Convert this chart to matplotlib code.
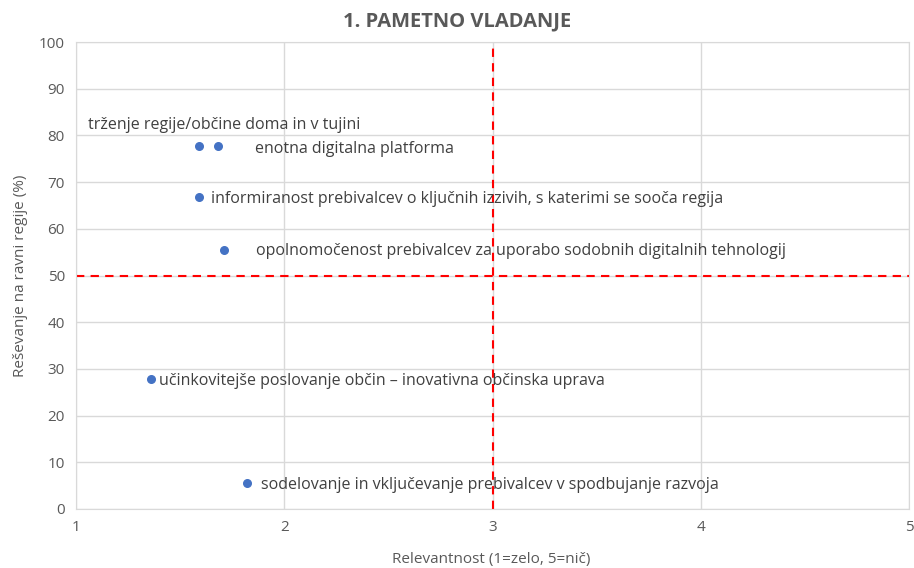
import matplotlib.pyplot as plt

# data
relevance = [1.59, 1.68, 1.59, 1.71, 1.36, 1.82]
region_pct = [77.7, 77.7, 66.8, 55.5, 27.8, 5.6]

labels = [
    "trženje regije/občine doma in v tujini",
    "enotna digitalna platforma",
    "informiranost prebivalcev o ključnih izzivih, s katerimi se sooča regija",
    "opolnomočenost prebivalcev za uporabo sodobnih digitalnih tehnologij",
    "učinkovitejše poslovanje občin – inovativna občinska uprava",
    "sodelovanje in vključevanje prebivalcev v spodbujanje razvoja",
]
# label anchor positions (data coords)
label_x = [1.06, 1.86, 1.65, 1.865, 1.40, 1.89]
label_y = [82.2, 77.1, 66.4, 55.2, 27.4, 5.1]

plt.rcParams['font.family'] = ['Open Sans', 'DejaVu Sans']
grey = '#595959'

fig = plt.figure(figsize=(9.14, 5.68), dpi=100)
ax = fig.add_axes([76 / 914, 1 - 509 / 568, (909 - 76) / 914, (509 - 42) / 568])

ax.scatter(relevance, region_pct, s=30, color='#4472C4', zorder=3)
for t, x, y in zip(labels, label_x, label_y):
    ax.text(x, y, t, fontsize=11.5, color='#404040', va='center', ha='left', zorder=4)

ax.axvline(3, color='red', linestyle=(0, (4, 3)), linewidth=1.5, zorder=2)
ax.axhline(50, color='red', linestyle=(0, (4, 3)), linewidth=1.5, zorder=2)

ax.set_xlim(1, 5)
ax.set_ylim(0, 100)
ax.set_xticks([1, 2, 3, 4, 5])
ax.set_yticks(range(0, 101, 10))
ax.grid(True, color='#d9d9d9', linewidth=1)
ax.set_axisbelow(True)
for s in ax.spines.values():
    s.set_color('#d9d9d9')
ax.tick_params(length=0, colors=grey, labelsize=11, pad=8)

ax.set_ylabel("Reševanje na ravni regije (%)", color=grey, fontsize=11, labelpad=8)
fig.text(0.537, 1 - 559 / 568, "Relevantnost (1=zelo, 5=nič)", ha='center', va='center',
         fontsize=11, color=grey)
fig.text(0.5, 1 - 21 / 568, "1. PAMETNO VLADANJE", ha='center', va='center',
         fontsize=14.5, fontweight='bold', color=grey)

fig.savefig('out.png', dpi=100)
